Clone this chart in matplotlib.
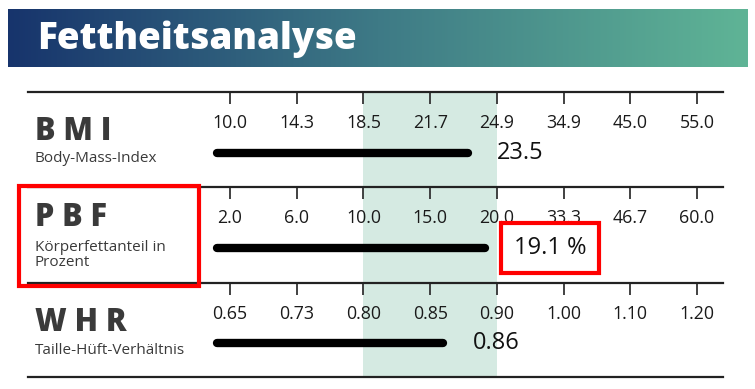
import numpy as np
import matplotlib.pyplot as plt
from matplotlib.colors import LinearSegmentedColormap
from matplotlib.patches import Rectangle

plt.rcParams["font.family"] = ["Open Sans", "DejaVu Sans"]

# data
title = "Fettheitsanalyse"
names = ["B M I", "P B F", "W H R"]
subtitles = ["Body-Mass-Index", "Körperfettanteil in\nProzent", "Taille-Hüft-Verhältnis"]
bmi_ticks = [10.0, 14.3, 18.5, 21.7, 24.9, 34.9, 45.0, 55.0]
pbf_ticks = [2.0, 6.0, 10.0, 15.0, 20.0, 33.3, 46.7, 60.0]
whr_ticks = [0.65, 0.73, 0.80, 0.85, 0.90, 1.00, 1.10, 1.20]
tick_fmt = ["{:.1f}", "{:.1f}", "{:.2f}"]
values = [23.5, 19.1, 0.86]
value_labels = ["23.5", "19.1 %", "0.86"]
normal_lo = [18.5, 10.0, 0.80]
normal_hi = [24.9, 20.0, 0.90]
highlight = 1  # PBF row is boxed in red

W, H = 755, 389
fig = plt.figure(figsize=(W / 100, H / 100), dpi=100)


def fx(px):
    return px / W


def fy(py):
    return 1 - py / H


# banner with gradient
bax = fig.add_axes([fx(8), fy(67), (748 - 8) / W, (67 - 9) / H])
cmap = LinearSegmentedColormap.from_list("banner", ["#17346c", "#3e7a86", "#5fb496"])
bax.imshow(np.linspace(0, 1, 256)[None, :], cmap=cmap, aspect="auto", extent=(0, 1, 0, 1))
bax.set_axis_off()
bax.text(0.039, 0.47, title, color="white", fontsize=26.5, fontweight="heavy",
         va="center", ha="left", transform=bax.transAxes)

rows = [(92, 187), (187, 283), (283, 377)]
tick_sets = [bmi_ticks, pbf_ticks, whr_ticks]
left_px, right_px, t0_px, step_px = 28, 723, 230, 66.71
bar_y = 0.36

for i, (top, bot) in enumerate(rows):
    ax = fig.add_axes([fx(left_px), fy(bot), (right_px - left_px) / W, (bot - top) / H])
    ticks = tick_sets[i]
    pos = np.arange(len(ticks))
    ax.set_xlim((left_px - t0_px) / step_px, (right_px - t0_px) / step_px)
    ax.set_ylim(0, 1)
    ax.set_yticks([])

    lo = np.interp(normal_lo[i], ticks, pos)
    hi = np.interp(normal_hi[i], ticks, pos)
    ax.axvspan(lo, hi, color="#d5eae2", lw=0, zorder=0)

    for s in ["left", "right", "bottom"]:
        ax.spines[s].set_visible(False)
    ax.spines["top"].set_color("#222222")
    ax.spines["top"].set_linewidth(1.6)
    if i == len(rows) - 1:
        ax.spines["bottom"].set_visible(True)
        ax.spines["bottom"].set_color("#222222")
        ax.spines["bottom"].set_linewidth(1.6)

    ax.set_xticks(pos)
    ax.set_xticklabels([tick_fmt[i].format(t) for t in ticks])
    ax.xaxis.set_ticks_position("top")
    ax.tick_params(axis="x", direction="in", length=8.5, width=1.3, color="#333333",
                   labeltop=True, labelbottom=False, bottom=False, pad=-28.5,
                   labelsize=12.8, labelcolor="#1a1a1a")

    v = np.interp(values[i], ticks, pos)
    ax.plot([-0.2, v], [bar_y, bar_y], color="black", lw=6, solid_capstyle="round")
    box = None
    if i == highlight:
        box = dict(boxstyle="square,pad=0.55", fc="none", ec="red", lw=3)
    ax.annotate(value_labels[i], xy=(v, bar_y), xytext=(21, 0), textcoords="offset points",
                ha="left", va="center", fontsize=17, color="#111111", bbox=box)

    h = bot - top
    tx = (35 - left_px) / (right_px - left_px)
    if i == 1:
        ax.text(tx, 1 - 31.5 / h, names[i], transform=ax.transAxes, fontsize=22,
                fontweight="heavy", color="#3a3a3a", ha="left", va="center")
        ax.text(tx, 1 - 68 / h, subtitles[i], transform=ax.transAxes, fontsize=11,
                color="#3a3a3a", ha="left", va="center", linespacing=1.0)
    else:
        ax.text(tx, 1 - 40 / h, names[i], transform=ax.transAxes, fontsize=22,
                fontweight="heavy", color="#3a3a3a", ha="left", va="center")
        ax.text(tx, 1 - 67 / h, subtitles[i], transform=ax.transAxes, fontsize=11,
                color="#3a3a3a", ha="left", va="center")

# red frame around the PBF label
fig.patches.append(Rectangle((fx(19), fy(286)), (199 - 19) / W, (286 - 186) / H,
                             transform=fig.transFigure, fill=False, ec="red", lw=3,
                             zorder=10))

fig.savefig("out.png", dpi=100)
